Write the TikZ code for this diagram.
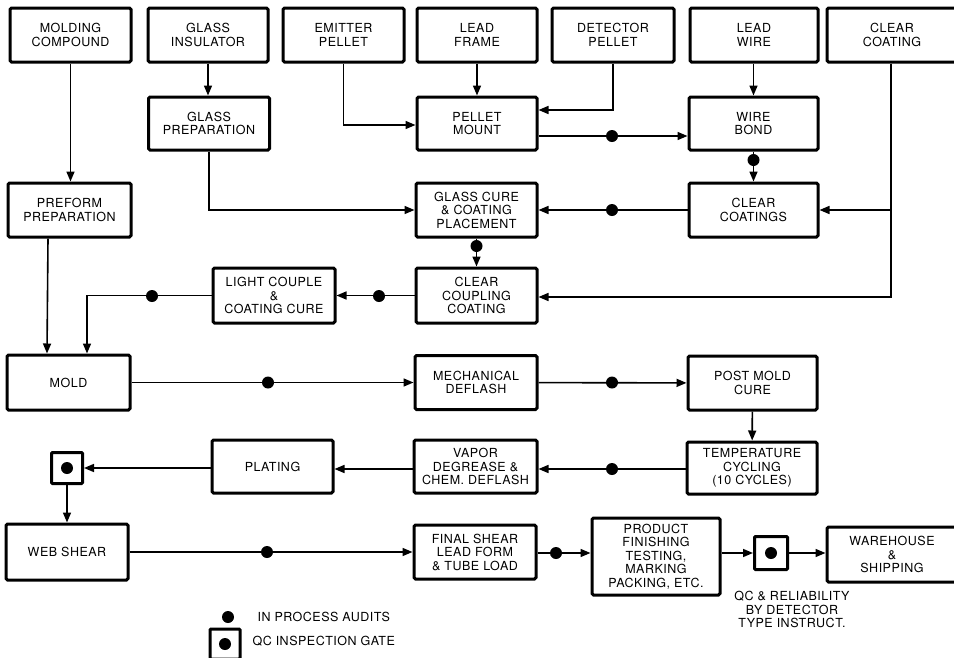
\documentclass[tikz,border=0pt]{standalone}
\usepackage{fontspec}
\setmainfont{TeX Gyre Heros}[LetterSpace=4]
\usetikzlibrary{arrows.meta}

\tikzset{
  box/.style={draw, line width=3pt, rounded corners=1.5pt, align=center,
    minimum width=121pt, minimum height=54pt, inner sep=2pt,
    font=\fontsize{12.5}{13.5}\selectfont},
  audit/.style={circle, fill, inner sep=0pt, minimum size=12pt},
  gate/.style={draw, line width=3pt, rounded corners=1pt, minimum size=31pt,
    path picture={\fill (path picture bounding box.center) circle (6);}},
  flow/.style={line width=1.6pt, -{Triangle[length=10pt,width=8pt]}},
  plain/.style={font=\fontsize{12.5}{13.5}\selectfont, align=center}
}

\begin{document}
\begin{tikzpicture}[x=1pt, y=-1pt]

\useasboundingbox (0,0) rectangle (954,657);

% Raw materials
\node[box] (mc) at (70.5,35) {MOLDING\\COMPOUND};
\node[box, minimum width=120pt] (gi) at (208,35) {GLASS\\INSULATOR};
\node[box] (ep) at (343.5,35) {EMITTER\\PELLET};
\node[box, minimum width=120pt] (lf) at (477,35) {LEAD\\FRAME};
\node[box, minimum width=122pt] (dp) at (613,35) {DETECTOR\\PELLET};
\node[box, minimum width=128pt] (lw) at (754,35) {LEAD\\WIRE};
\node[box, minimum width=130pt] (cc) at (892,35) {CLEAR\\COATING};

% Assembly
\node[box, minimum height=53pt] (gp) at (209,123.5) {GLASS\\PREPARATION};
\node[box, minimum width=120pt, minimum height=53pt] (pm) at (477,123.5) {PELLET\\MOUNT};
\node[box, minimum width=129pt, minimum height=53pt] (wb) at (753.5,123.5) {WIRE\\BOND};
\node[box, minimum width=123pt] (pp) at (69.5,210) {PREFORM\\PREPARATION};
\node[box] (gc) at (476.5,210) {GLASS CURE\\\& COATING\\PLACEMENT};
\node[box, minimum width=129pt] (cs) at (753.5,210) {CLEAR\\COATINGS};
\node[box, minimum width=122pt, minimum height=55pt] (lc) at (274,295.5) {LIGHT COUPLE\\\&\\COATING CURE};
\node[box, minimum height=55pt] (ccc) at (476.5,295.5) {CLEAR\\COUPLING\\COATING};

% Molding and finishing
\node[box, minimum width=123pt, minimum height=55pt] (mo) at (68.5,382.5) {MOLD};
\node[box, minimum width=122pt] (md) at (476,382.5) {MECHANICAL\\DEFLASH};
\node[box, minimum width=129pt] (pmc) at (752.5,383) {POST MOLD\\CURE};
\node[gate] (g1) at (67,468) {};
\node[box, minimum height=53pt] (pl) at (272.5,466.5) {PLATING};
\node[box, minimum width=123pt, minimum height=53pt] (vd) at (475.5,466.5) {VAPOR\\DEGREASE \&\\CHEM. DEFLASH};
\node[box, minimum width=130pt, minimum height=52pt] (tc) at (752,468) {TEMPERATURE\\CYCLING\\(10 CYCLES)};
\node[box, minimum width=122pt, minimum height=56pt] (ws) at (67,552) {WEB SHEAR};
\node[box, minimum width=122pt] (fs) at (475,552) {FINAL SHEAR\\LEAD FORM\\\& TUBE LOAD};
\node[box, minimum width=128pt, minimum height=77pt] (pf) at (656,556.5) {PRODUCT\\FINISHING\\TESTING,\\MARKING\\PACKING, ETC.};
\node[gate, minimum size=33pt] (g2) at (771,553) {};
\node[box, minimum width=130pt, minimum height=55pt] (wh) at (892,554.5) {WAREHOUSE\\\&\\SHIPPING};
\node[plain] (qcnote) at (792,609.5) {QC \& RELIABILITY\\BY DETECTOR\\TYPE INSTRUCT.};

% Audit points
\node[audit] (a1) at (612,136) {};
\node[audit] (a2) at (753.5,160) {};
\node[audit] (a3) at (612,210) {};
\node[audit] (a4) at (476.5,246) {};
\node[audit] (a5) at (379,296) {};
\node[audit] (a6) at (152,296) {};
\node[audit] (a7) at (268,382.5) {};
\node[audit] (a8) at (612,382.5) {};
\node[audit] (a9) at (612,469) {};
\node[audit] (a10) at (267,552) {};
\node[audit] (a11) at (556,553) {};

% Connectors
\draw[flow] (mc.south) -- (mc.south |- pp.north);
\draw[flow] (gi.south) -- (gi.south |- gp.north);
\draw[flow] (ep.south) |- ([yshift=-1.5pt]pm.west);
\draw[flow] (lf) -- (pm);
\draw[flow] (dp.south) |- ([yshift=13.5pt]pm.east);
\draw[flow] (pm.east |- a1) -- (wb.west |- a1);
\draw[flow] (lw.south -| wb.north) -- (wb.north);
\draw[flow] (wb) -- (cs);
\draw[flow] ([xshift=-1pt]cc.south) |- (cs.east);
\draw[flow] ([xshift=-1pt]cc.south) |- ([yshift=-1.5pt]ccc.east);
\draw[flow] (cs) -- (gc);
\draw[flow] (gp.south) |- (gc.west);
\draw[flow] (gc) -- (ccc);
\draw[flow] (ccc) -- (lc);
\draw[flow] (lc.west) -| ([xshift=18.5pt]mo.north);
\draw[flow] ([xshift=-21.5pt]pp.south) -- ([xshift=-21.5pt]mo.north);
\draw[flow] (mo) -- (md);
\draw[flow] (md) -- (pmc);
\draw[flow] (pmc) -- (tc);
\draw[flow] (tc.west |- a9) -- (vd.east |- a9);
\draw[flow] (vd.west |- a9) -- (pl.east |- a9);
\draw[flow] (pl.west |- g1) -- (g1);
\draw[flow] (g1) -- (g1 |- ws.north);
\draw[flow] (ws) -- (fs);
\draw[flow] (fs.east |- a11) -- (pf.west |- a11);
\draw[flow] (pf.east |- g2) -- (g2);
\draw[flow] (g2) -- (wh.west |- g2);

% Legend
\node[audit] (lega) at (228,617) {};
\node[plain, anchor=west] (legatext) at (254,617) {IN PROCESS AUDITS};
\node[gate, minimum size=30pt] (legg) at (225,644) {};
\node[plain, anchor=west] (leggtext) at (249,641) {QC INSPECTION GATE};

\end{tikzpicture}
\end{document}
